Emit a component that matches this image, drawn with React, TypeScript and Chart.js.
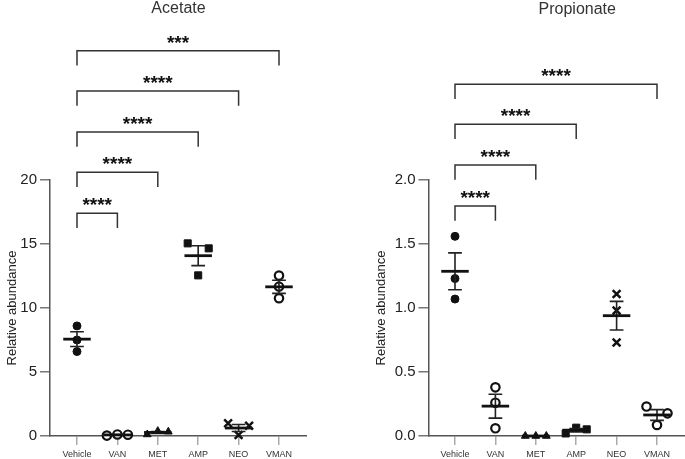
import React, { useEffect, useRef } from 'react';
import { Chart, registerables } from 'chart.js';

Chart.register(...registerables);
Chart.defaults.font.family = '"Liberation Sans", Arial, Helvetica, sans-serif';

// ---------- data ----------
const categories = ['Vehicle', 'VAN', 'MET', 'AMP', 'NEO', 'VMAN'];

const acetateVehicle = [8.6, 7.5, 6.6];
const acetateVAN = [0.03, 0.12, 0.1];
const acetateMET = [0.12, 0.38, 0.33];
const acetateAMP = [15.05, 14.66, 12.55];
const acetateNEO = [0.99, 0.08, 0.8];
const acetateVMAN = [12.53, 11.67, 10.76];

const propionateVehicle = [1.56, 1.23, 1.07];
const propionateVAN = [0.38, 0.26, 0.06];
const propionateMET = [0.0, 0.0, 0.0];
const propionateAMP = [0.02, 0.065, 0.052];
const propionateNEO = [1.11, 0.98, 0.73];
const propionateVMAN = [0.23, 0.177, 0.086];

const acetateYTicks = [0, 5, 10, 15, 20];
const propionateYTicks = [0, 0.5, 1.0, 1.5, 2.0];

// significance brackets: Vehicle vs target group
const acetateBracketTargets = [1, 2, 3, 4, 5];
const acetateBracketTops = [17.4, 20.6, 23.75, 26.95, 30.1];
const acetateBracketStars = ['****', '****', '****', '****', '***'];

const propionateBracketTargets = [1, 2, 3, 5];
const propionateBracketTops = [1.797, 2.117, 2.435, 2.748];
const propionateBracketStars = ['****', '****', '****', '****'];

// ---------- styles ----------
const markerStyles = [
  { pointStyle: 'circle', radius: 4, fill: '#111', border: 1 },
  { pointStyle: 'circle', radius: 4.2, fill: '#fff', border: 2.2 },
  { pointStyle: 'triangle', radius: 4.5, fill: '#111', border: 1 },
  { pointStyle: 'rect', radius: 5, fill: '#111', border: 1 },
  { pointStyle: 'crossRot', radius: 5.5, fill: '#111', border: 2.5 },
  { pointStyle: 'circle', radius: 4.2, fill: '#fff', border: 2.2 },
];

const FONT = '"Liberation Sans", Arial, Helvetica, sans-serif';

function spreadOffsets(values: number[], threshold: number, half: number): number[] {
  const n = values.length;
  const idx = values.map((_, i) => i).sort((a, b) => values[a] - values[b]);
  const clusters: number[][] = [];
  let cur = [idx[0]];
  for (let k = 1; k < n; k++) {
    if (values[idx[k]] - values[idx[k - 1]] < threshold) cur.push(idx[k]);
    else {
      clusters.push(cur);
      cur = [idx[k]];
    }
  }
  clusters.push(cur);
  const off = new Array(n).fill(0);
  clusters.forEach((c) => {
    if (c.length > 1) {
      const s = [...c].sort((a, b) => a - b);
      s.forEach((i, k) => {
        off[i] = -half + (2 * half * k) / (c.length - 1);
      });
    }
  });
  return off;
}

function meanSem(values: number[]) {
  const n = values.length;
  const m = values.reduce((a, b) => a + b, 0) / n;
  const sd = Math.sqrt(values.reduce((a, v) => a + (v - m) * (v - m), 0) / (n - 1));
  return { m, s: sd / Math.sqrt(n) };
}

const starsPlugin = {
  id: 'sigStars',
  afterDatasetsDraw(chart: any, _args: any, opts: any) {
    const { ctx } = chart;
    const x = chart.scales.x;
    const y = chart.scales.y;
    ctx.save();
    ctx.font = `bold 19px ${FONT}`;
    ctx.fillStyle = '#111';
    ctx.textAlign = 'center';
    ctx.textBaseline = 'alphabetic';
    (opts.brackets || []).forEach((b: any) => {
      const cx = (x.getPixelForValue(0) + x.getPixelForValue(b.to)) / 2;
      const cy = y.getPixelForValue(b.top) - 2;
      ctx.fillText(b.label, cx, cy);
    });
    ctx.restore();
  },
};

interface PanelDef {
  title: string;
  groups: number[][];
  yTicks: number[];
  decimals: number;
  bracketTargets: number[];
  bracketTops: number[];
  bracketStars: string[];
  xMin: number;
  xMax: number;
  titlePadTop: number;
  titlePadBottom: number;
  yTitlePadTop: number;
  yAxisWidth: number;
}

function buildConfig(p: PanelDef): any {
  const yMax = p.yTicks[p.yTicks.length - 1];
  const datasets: any[] = [];
  p.groups.forEach((vals, i) => {
    const st = markerStyles[i];
    const off = spreadOffsets(vals, yMax * 0.035, 0.26);
    datasets.push({
      data: vals.map((v, j) => ({ x: i + off[j], y: v })),
      showLine: false,
      pointStyle: st.pointStyle,
      pointRadius: st.radius,
      pointBackgroundColor: st.fill,
      pointBorderColor: '#111',
      pointBorderWidth: st.border,
      clip: false,
      order: 3,
    });
    const { m, s } = meanSem(vals);
    datasets.push({
      data: [
        { x: i - 0.34, y: m },
        { x: i + 0.34, y: m },
      ],
      showLine: true,
      pointRadius: 0,
      borderColor: '#111',
      borderWidth: 2.8,
      clip: false,
      order: 1,
    });
    datasets.push({
      data: [
        { x: i - 0.17, y: m + s },
        { x: i + 0.17, y: m + s },
        { x: i, y: null },
        { x: i, y: m + s },
        { x: i, y: m - s },
        { x: i, y: null },
        { x: i - 0.17, y: m - s },
        { x: i + 0.17, y: m - s },
      ],
      showLine: true,
      spanGaps: false,
      pointRadius: 0,
      borderColor: '#222',
      borderWidth: 1.6,
      clip: false,
      order: 2,
    });
  });
  const drop = yMax * 0.0575;
  p.bracketTargets.forEach((t, k) => {
    const top = p.bracketTops[k];
    datasets.push({
      data: [
        { x: 0, y: top - drop },
        { x: 0, y: top },
        { x: t, y: top },
        { x: t, y: top - drop },
      ],
      showLine: true,
      pointRadius: 0,
      borderColor: '#333',
      borderWidth: 1.5,
      borderJoinStyle: 'miter',
      clip: false,
      order: 0,
    });
  });
  const brackets = p.bracketTargets.map((t, k) => ({
    to: t,
    top: p.bracketTops[k],
    label: p.bracketStars[k],
  }));

  return {
    type: 'scatter',
    data: { datasets },
    plugins: [starsPlugin],
    options: {
      animation: false,
      responsive: false,
      events: [],
      layout: { padding: 0, autoPadding: false },
      plugins: {
        legend: { display: false },
        tooltip: { enabled: false },
        title: {
          display: true,
          text: p.title,
          fullSize: false,
          color: '#333',
          font: { size: 16, weight: 'normal', lineHeight: 1, family: FONT },
          padding: { top: p.titlePadTop, bottom: p.titlePadBottom },
        },
        sigStars: { brackets },
      },
      scales: {
        x: {
          type: 'linear',
          min: p.xMin,
          max: p.xMax,
          afterBuildTicks: (scale: any) => {
            scale.ticks = categories.map((_, i) => ({ value: i }));
          },
          afterFit: (scale: any) => {
            scale.height = 23;
          },
          ticks: {
            autoSkip: false,
            maxRotation: 0,
            padding: 5,
            color: '#333',
            font: { size: 9, lineHeight: 1.1, family: FONT },
            callback: (v: any) => categories[v] ?? '',
          },
          grid: {
            drawOnChartArea: false,
            drawTicks: true,
            tickLength: 9,
            color: '#aaa',
            lineWidth: 1.5,
          },
          border: { display: true, color: '#555', width: 1.5 },
        },
        y: {
          type: 'linear',
          min: 0,
          max: yMax,
          afterBuildTicks: (scale: any) => {
            scale.ticks = p.yTicks.map((v) => ({ value: v }));
          },
          afterFit: (scale: any) => {
            scale.width = p.yAxisWidth;
          },
          ticks: {
            padding: 3,
            color: '#222',
            font: { size: 15, family: FONT },
            callback: (v: any) => Number(v).toFixed(p.decimals),
          },
          grid: {
            drawOnChartArea: false,
            drawTicks: true,
            tickLength: 10,
            color: '#777',
            lineWidth: 1.5,
          },
          border: { display: true, color: '#555', width: 1.5 },
          title: {
            display: true,
            text: 'Relative abundance',
            color: '#222',
            font: { size: 13, family: FONT },
            padding: { top: p.yTitlePadTop, bottom: 0 },
          },
        },
      },
    },
  };
}

const acetatePanel: PanelDef = {
  title: 'Acetate',
  groups: [acetateVehicle, acetateVAN, acetateMET, acetateAMP, acetateNEO, acetateVMAN],
  yTicks: acetateYTicks,
  decimals: 0,
  bracketTargets: acetateBracketTargets,
  bracketTops: acetateBracketTops,
  bracketStars: acetateBracketStars,
  xMin: -0.668,
  xMax: 5.693,
  titlePadTop: 0.5,
  titlePadBottom: 163.5,
  yTitlePadTop: 4.7,
  yAxisWidth: 50,
};

const propionatePanel: PanelDef = {
  title: 'Propionate',
  groups: [
    propionateVehicle,
    propionateVAN,
    propionateMET,
    propionateAMP,
    propionateNEO,
    propionateVMAN,
  ],
  yTicks: propionateYTicks,
  decimals: 1,
  bracketTargets: propionateBracketTargets,
  bracketTops: propionateBracketTops,
  bracketStars: propionateBracketStars,
  xMin: -0.656,
  xMax: 6.708,
  titlePadTop: 1.5,
  titlePadBottom: 162.5,
  yTitlePadTop: 3.2,
  yAxisWidth: 58.5,
};

function Panel({ def, left, width }: { def: PanelDef; left: number; width: number }) {
  const ref = useRef<HTMLCanvasElement | null>(null);
  useEffect(() => {
    if (!ref.current) return;
    const chart = new Chart(ref.current, buildConfig(def));
    return () => chart.destroy();
  }, [def]);
  return (
    <canvas
      ref={ref}
      width={width}
      height={459}
      style={{ position: 'absolute', left, top: 0, width, height: 459 }}
    />
  );
}

export default function App() {
  return (
    <div
      style={{
        position: 'absolute',
        left: 0,
        top: 0,
        width: 685,
        height: 459,
        overflow: 'hidden',
        background: '#fff',
      }}
    >
      <Panel def={acetatePanel} left={0} width={307} />
      <Panel def={propionatePanel} left={370} width={356} />
    </div>
  );
}
